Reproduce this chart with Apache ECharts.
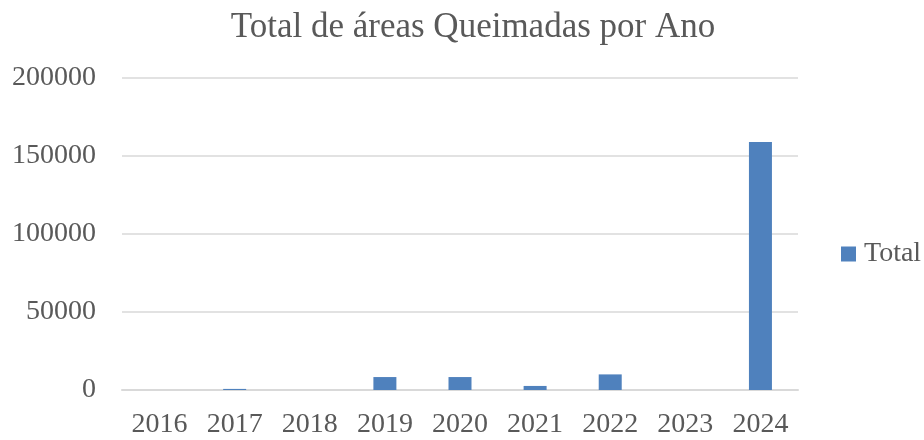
<!DOCTYPE html>
<html>
<head>
<meta charset="utf-8">
<script src="https://cdn.jsdelivr.net/npm/echarts@6/dist/echarts.min.js"></script>
<style>
  html, body { margin: 0; padding: 0; background: #fff; }
  #chart { width: 924px; height: 440px; }
</style>
</head>
<body>
<div id="chart"></div>
<script>
const years = ["2016", "2017", "2018", "2019", "2020", "2021", "2022", "2023", "2024"];
const totals = [0, 700, 0, 8300, 8300, 2600, 10000, 0, 159000];
const yTicks = [0, 50000, 100000, 150000, 200000];

const font = "'Liberation Serif', 'Times New Roman', serif";
const chart = echarts.init(document.getElementById("chart"));
chart.setOption({
  animation: false,
  title: {
    text: "Total de áreas Queimadas por Ano",
    left: 468,
    top: 5,
    textAlign: "center",
    textStyle: { fontFamily: font, fontSize: 35, fontWeight: "normal", color: "#595959" },
  },
  legend: {
    data: ["Total"],
    left: 836,
    top: 235,
    icon: "rect",
    itemWidth: 15,
    itemHeight: 15,
    textStyle: { fontFamily: font, fontSize: 28, color: "#595959", padding: [0, 0, 0, 3] },
  },
  grid: { left: 122, right: 126, top: 78, bottom: 50 },
  xAxis: {
    type: "category",
    data: years,
    axisLine: { lineStyle: { color: "#d9d9d9", width: 2 } },
    axisTick: { show: false },
    axisLabel: { fontFamily: font, fontSize: 28, color: "#595959", margin: 21 },
  },
  yAxis: {
    type: "value",
    min: yTicks[0],
    max: yTicks[yTicks.length - 1],
    interval: yTicks[1] - yTicks[0],
    axisLine: { show: false },
    axisTick: { show: false },
    splitLine: { lineStyle: { color: "#d9d9d9", width: 1.5 } },
    axisLabel: {
      fontFamily: font,
      fontSize: 28,
      color: "#595959",
      margin: 26,
      formatter: (value) => String(value),
    },
  },
  series: [
    {
      name: "Total",
      type: "bar",
      data: totals,
      barWidth: 23,
      itemStyle: { color: "#4f81bd" },
    },
  ],
});
</script>
</body>
</html>
